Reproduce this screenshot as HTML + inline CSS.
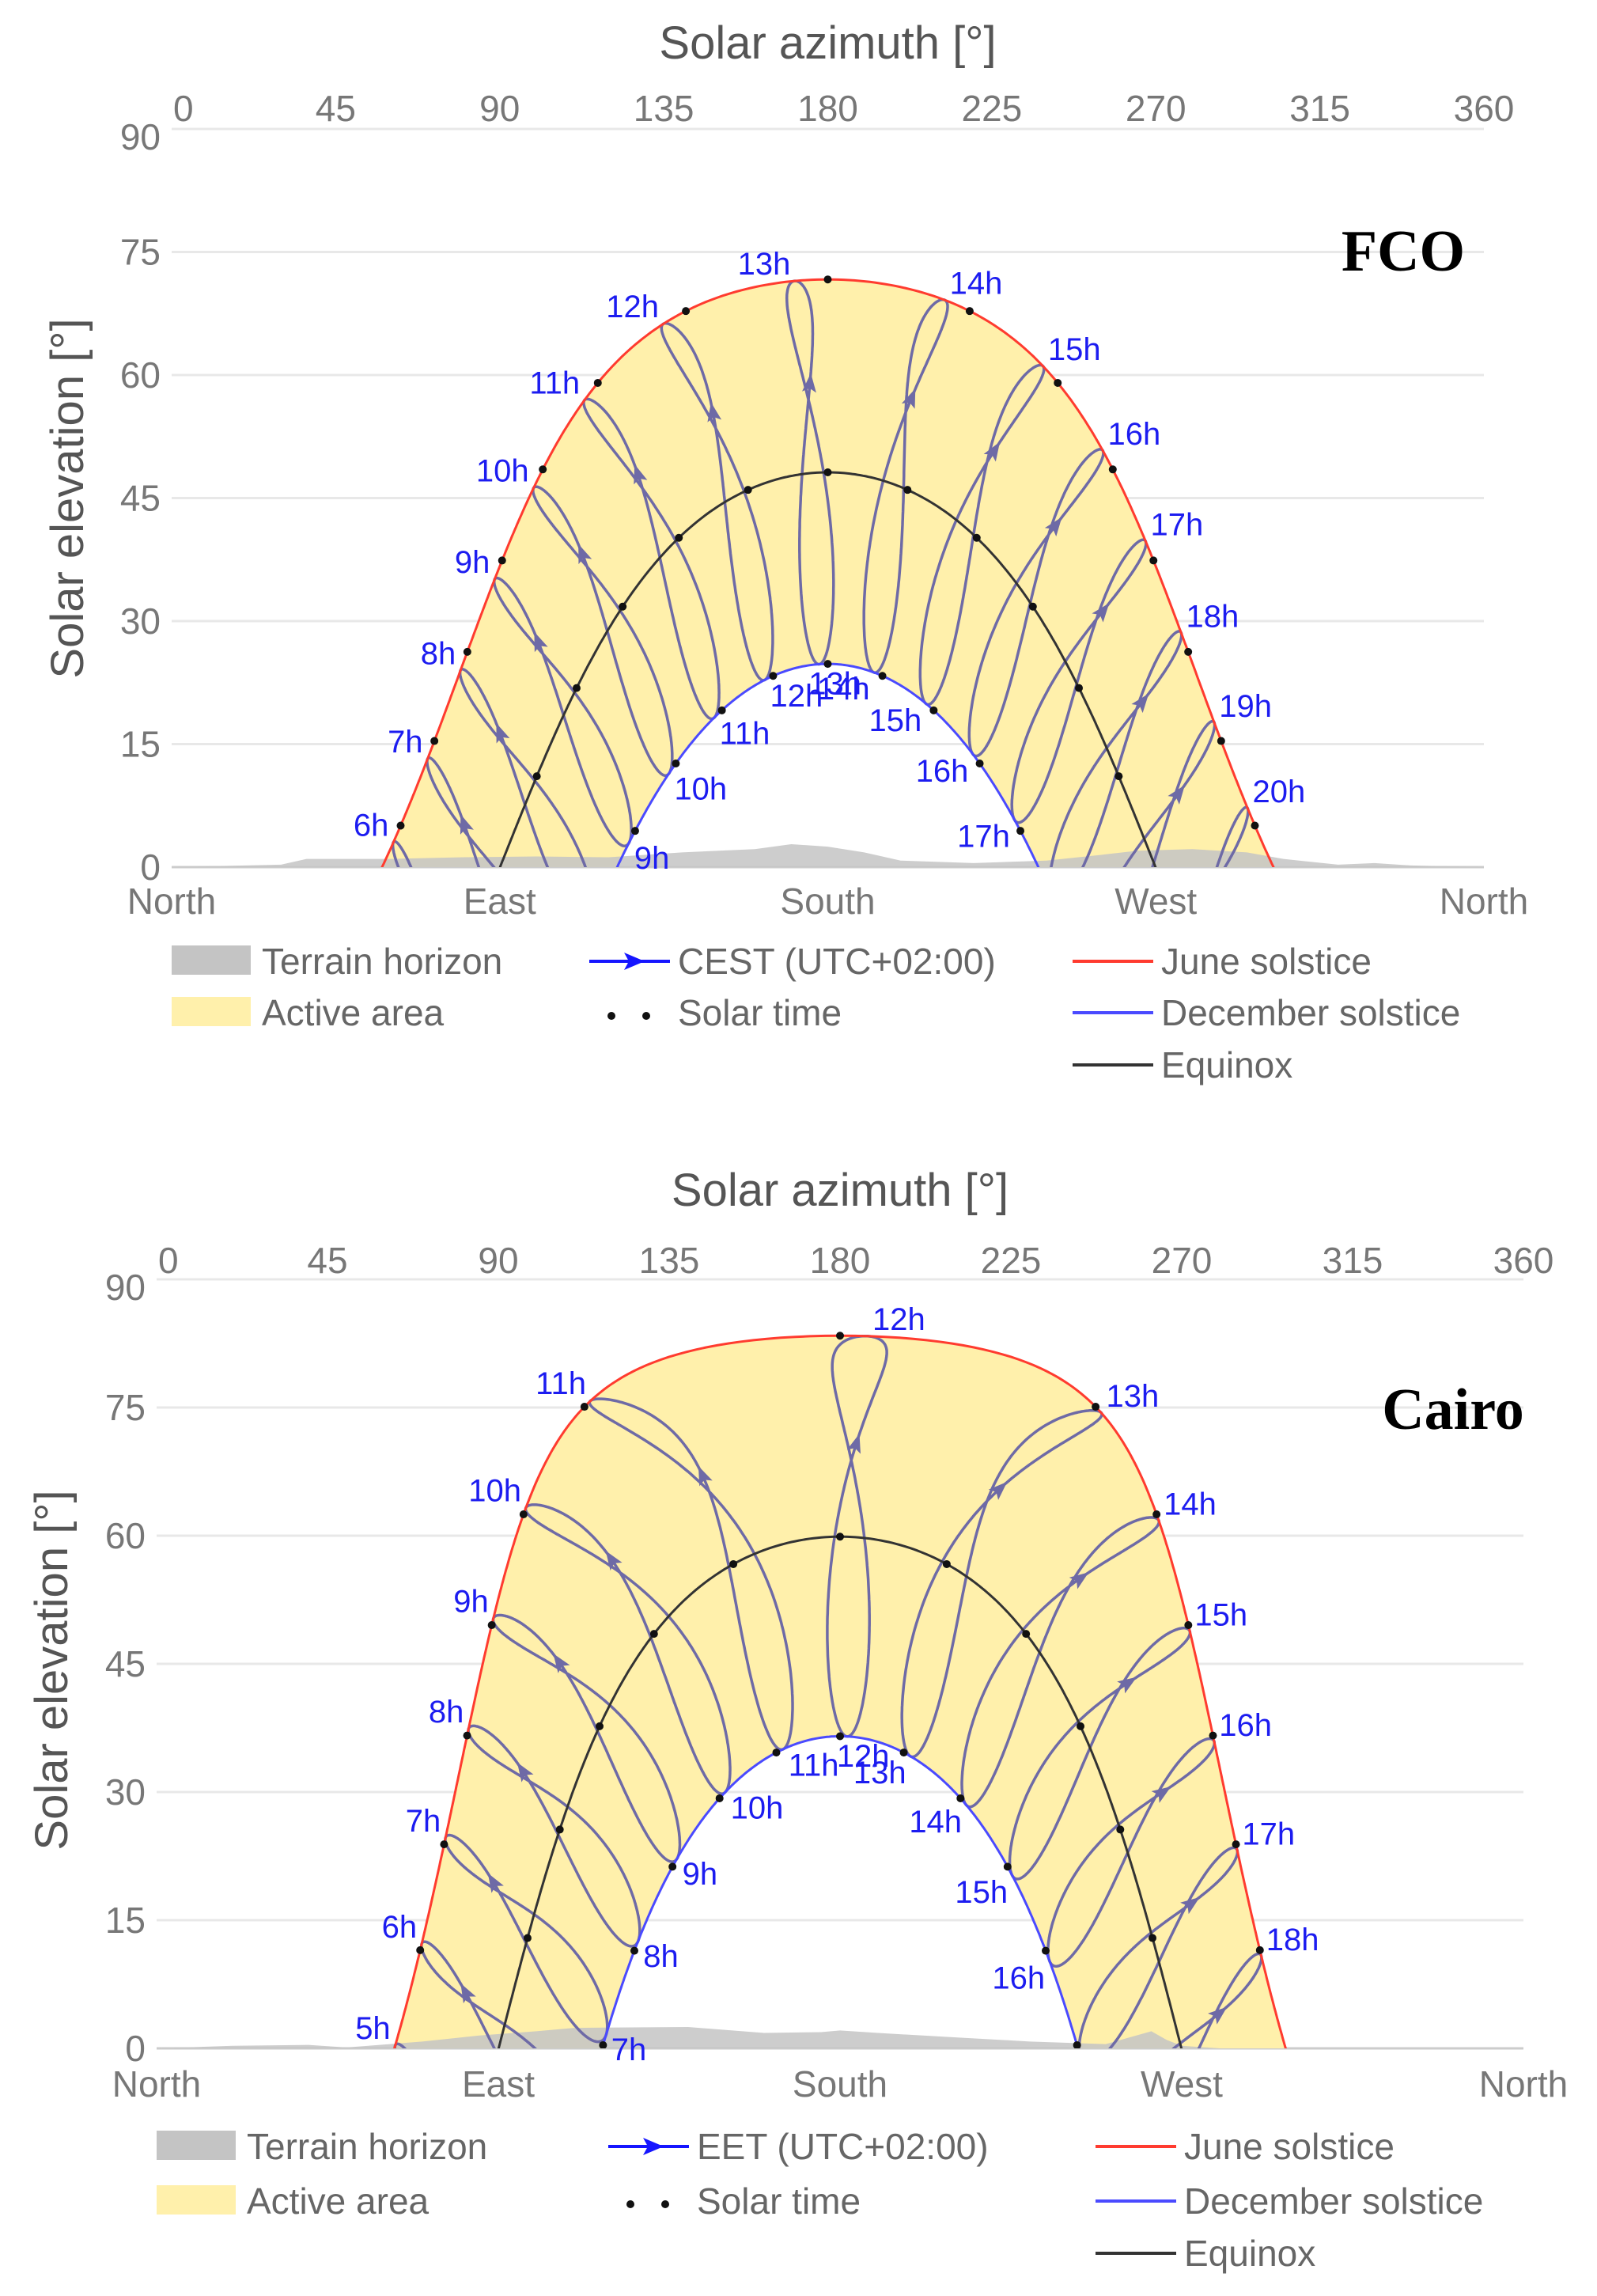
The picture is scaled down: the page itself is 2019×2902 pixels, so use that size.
<!DOCTYPE html>
<html><head><meta charset="utf-8">
<style>
html,body{margin:0;padding:0;background:#fff;overflow:hidden;width:2019px;height:2902px;}
svg{display:block;font-family:"Liberation Sans",sans-serif;}
</style></head>
<body>
<svg id="root" width="2019" height="2902" viewBox="0 0 2019 2902" xmlns="http://www.w3.org/2000/svg"></svg>
<script>
// ---- data ----
const azTicks = [0,45,90,135,180,225,270,315,360];
const elTicks = [0,15,30,45,60,75,90];
const compassNames = ["North","East","South","West","North"];
const compassAz = [0,90,180,270,360];
// FCO
const fcoLatitude = [41.8];
const fcoLongitude = [12.25];
const fcoUtcOffset = [2];
const fcoHours = [5,6,7,8,9,10,11,12,13,14,15,16,17,18,19,20,21];
const fcoJuneLabels = [6,7,8,9,10,11,12,13,14,15,16,17,18,19,20];
const fcoDecLabels = [9,10,11,12,13,14,15,16,17];
const fcoTerrainAz = [0,30,37,60,80,100,120,140,160,170,180,190,200,220,240,255,265,280,295,305,320,330,340,360];
const fcoTerrainEl = [0,0.3,1,1,1.2,1.3,1.2,1.8,2.2,2.8,2.5,1.8,0.8,0.5,0.8,1.5,2.0,2.2,1.8,1.0,0.3,0.5,0.2,0];
// Cairo
const cairoLatitude = [30.05];
const cairoLongitude = [31.25];
const cairoUtcOffset = [2];
const cairoHours = [4,5,6,7,8,9,10,11,12,13,14,15,16,17,18,19];
const cairoJuneLabels = [5,6,7,8,9,10,11,12,13,14,15,16,17,18];
const cairoDecLabels = [7,8,9,10,11,12,13,14,15,16];
const cairoTerrainAz = [0,20,40,50,70,85,100,110,140,160,175,180,190,210,230,250,262,266,270,280,360];
const cairoTerrainEl = [0,0.3,0.4,0.1,0.8,1.5,2.0,2.4,2.5,1.8,1.9,2.1,1.8,1.3,0.8,0.5,2.0,1.0,0.3,0,0];

const NS="http://www.w3.org/2000/svg";
const root=document.getElementById('root');
function mk(tag,attrs,parent){const e=document.createElementNS(NS,tag);for(const k in attrs)e.setAttribute(k,attrs[k]);(parent||root).appendChild(e);return e;}
const R=Math.PI/180;
function gam(day){return 2*Math.PI/365*(day-1);}
function decl(day){const g=gam(day);return 0.006918-0.399912*Math.cos(g)+0.070257*Math.sin(g)-0.006758*Math.cos(2*g)+0.000907*Math.sin(2*g)-0.002697*Math.cos(3*g)+0.00148*Math.sin(3*g);}
function eqt(day){const g=gam(day);return 229.18*(0.000075+0.001868*Math.cos(g)-0.032077*Math.sin(g)-0.014615*Math.cos(2*g)-0.040849*Math.sin(2*g));}
function pos(lat,dec,haDeg){const la=lat*R,h=haDeg*R;
  const el=Math.asin(Math.sin(la)*Math.sin(dec)+Math.cos(la)*Math.cos(dec)*Math.cos(h))/R;
  const az=Math.atan2(Math.sin(h),Math.cos(h)*Math.sin(la)-Math.tan(dec)*Math.cos(la))/R+180;
  return {az,el};}
function clockHa(lon,tz,day,hr){return (hr*60+eqt(day)+4*lon-60*tz)/4-180;}

function chart(o){
  const g=mk('g',{});
  
  
  const X=a=>o.x0+(o.x1-o.x0)*a/360, Y=e=>o.y0+(o.y90-o.y0)*e/90;
  const cid=o.name+'-clip';
  const cp=mk('clipPath',{id:cid},g);mk('rect',{x:o.x0,y:o.y90-40,width:o.x1-o.x0,height:o.y0-o.y90+40},cp);
  const t=mk('text',{x:(o.x0+o.x1)/2,y:o.titleY,'text-anchor':'middle','font-size':58,fill:'#555'},g);t.textContent='Solar azimuth [°]';
  
  
  elTicks.forEach(v=>{
    const l=mk('line',{x1:o.x0,x2:o.x1,y1:Y(v),y2:Y(v),stroke:v===0?'#ccc':'#e8e8e8','stroke-width':3},g);
    
    
    const tx=mk('text',{x:o.x0-14,y:Y(v)+(v===90?26:16),'text-anchor':'end','font-size':46,fill:'#777'},g);tx.textContent=v;
    
    
  });
  azTicks.forEach((v,i)=>{
    const tx=mk('text',{x:X(v)+(i===0?2:0),y:o.tickY,'text-anchor':(i===0?'start':'middle'),'font-size':46,fill:'#777'},g);tx.textContent=v;
    
    
  });
  compassNames.forEach((n,i)=>{
    const tx=mk('text',{x:X(compassAz[i]),y:o.compY,'text-anchor':'middle','font-size':46,fill:'#777'},g);tx.textContent=n;
    
    
  });
  const yt=mk('text',{x:0,y:0,'text-anchor':'middle','font-size':58,fill:'#555',transform:`translate(${o.ytX},${o.ytY}) rotate(-90)`},g);yt.textContent='Solar elevation [°]';
  
  
  function solCurve(day){const d=decl(day),pts=[];for(let h=-180;h<=180;h+=0.5){pts.push(pos(o.lat,d,h));}return pts;}
  const june=solCurve(172),dec=solCurve(355),eq=solCurve(80);
  const above=p=>p.filter(q=>q.el>=0);
  const ja=above(june),da=above(dec);
  let ps=`M${X(ja[0].az)},${Y(0)} `+ja.map(p=>`L${X(p.az)},${Y(p.el)}`).join(' ')+` L${X(ja[ja.length-1].az)},${Y(0)}`;
  const dr=da.slice().reverse();
  ps+=` L${X(dr[0].az)},${Y(0)} `+dr.map(p=>`L${X(p.az)},${Y(p.el)}`).join(' ')+` L${X(dr[dr.length-1].az)},${Y(0)} Z`;
  const area=mk('path',{d:ps,fill:'#fff0ab',stroke:'none'},g);
  
  
  let tp=`M${X(o.terrAz[0])},${Y(0)} `+o.terrAz.map((a,i)=>`L${X(a)},${Y(o.terrEl[i])}`).join(' ')+` L${X(360)},${Y(0)} Z`;
  const ter=mk('path',{d:tp,fill:'#c4c4c4',opacity:0.85},g);
  
  
  const cg=mk('g',{'clip-path':`url(#${cid})`},g);
  const line=(pts,col,w,name)=>{const p=mk('path',{d:pts.map((q,i)=>(i?'L':'M')+X(q.az).toFixed(1)+','+Y(q.el).toFixed(1)).join(' '),fill:'none',stroke:col,'stroke-width':w},cg);
    
    return p;};
  o.hours.forEach(hr=>{
    const pts=[];for(let d=1;d<=366;d++){pts.push(pos(o.lat,decl(d),clockHa(o.lon,o.tz,d,hr)));}
    pts.push(pts[0]);
    const segs=[];let cur=[];
    pts.forEach(p=>{if(p.el>-8&&Math.abs(p.az-180)<175){cur.push(p);}else{if(cur.length>1)segs.push(cur);cur=[];}});
    if(cur.length>1)segs.push(cur);
    segs.forEach(s=>line(s,'#6e6aa6',3.5,'analemma-'+hr+'h'));
    const a=pos(o.lat,decl(105),clockHa(o.lon,o.tz,105,hr)),b=pos(o.lat,decl(110),clockHa(o.lon,o.tz,110,hr));
    if(b.el>2){const ang=Math.atan2(Y(b.el)-Y(a.el),X(b.az)-X(a.az))/R;
      const ar=mk('path',{d:'M9,0 L-15,-9 L-10,0 L-15,9 Z',fill:'#6e6aa6',transform:`translate(${X(b.az)},${Y(b.el)}) rotate(${ang})`},cg);
      
      }
  });
  line(eq,'#333',3,'equinox-curve');
  line(june,'#ff3b2f',3,'june-solstice-curve');
  line(dec,'#4a4aff',3,'december-solstice-curve');
  [172,80,355].forEach(day=>{const d=decl(day);for(let h=-165;h<=165;h+=15){const p=pos(o.lat,d,h);if(p.el<0)continue;
    const c=mk('circle',{cx:X(p.az),cy:Y(p.el),r:5,fill:'#111'},cg);
    
    }});
  function lab(hr,day,june){const p=pos(o.lat,decl(day),clockHa(o.lon,o.tz,day,hr));if(p.el<-0.5)return;
    let dx,dy,anc;
    if(june){if(p.az<177){anc='end';dx=-6;dy=-8;}else if(p.az>183){anc='start';dx=6;dy=-8;}else{anc='middle';dx=0;dy=-18;}}
    else{if(p.az<175){anc='start';dx=6;dy=34;}else if(p.az>185){anc='end';dx=-6;dy=34;}else{anc='start';dx=-14;dy=38;}}
    const tx=mk('text',{x:X(p.az)+dx,y:Y(p.el)+dy,'text-anchor':anc,'font-size':40,fill:'#1c1cf0'},g);tx.textContent=hr+'h';
    
    }
  o.juneLabels.forEach(h=>lab(h,172,true));
  o.decLabels.forEach(h=>lab(h,355,false));
  const nm=mk('text',{x:o.nameX,y:o.nameY,'text-anchor':'middle','font-size':74,'font-weight':'bold','font-family':'Liberation Serif, serif',fill:'#000'},g);nm.textContent=o.title;
  
  
  const L=o.leg;
  const sw1=mk('rect',{x:L.c1,y:L.r[0]-20,width:100,height:37,fill:'#c4c4c4'},g);
  
  
  const sw2=mk('rect',{x:L.c1,y:L.r[1]-20,width:100,height:37,fill:'#fff0ab'},g);
  
  
  const ll=mk('line',{x1:L.c2,x2:L.c2+102,y1:L.r[0],y2:L.r[0],stroke:'#1515ff','stroke-width':4},g);
  
  
  const la=mk('path',{d:`M${L.c2+70},${L.r[0]} l-26,-11 l6,11 l-6,11 Z`,fill:'#1515ff'},g);
  
  
  [L.c2+28,L.c2+72].forEach(x=>{const c=mk('circle',{cx:x,cy:L.r[1]+4,r:5,fill:'#111'},g);
    
    });
  [['#ff3b2f',0],['#4a4aff',1],['#333',2]].forEach(([c,i])=>{const l=mk('line',{x1:L.c3,x2:L.c3+102,y1:L.r[i],y2:L.r[i],stroke:c,'stroke-width':4},g);
    
    });
  const texts=[[L.c1+114,0,'Terrain horizon'],[L.c1+114,1,'Active area'],[L.c2+112,0,o.tzName],[L.c2+112,1,'Solar time'],[L.c3+112,0,'June solstice'],[L.c3+112,1,'December solstice'],[L.c3+112,2,'Equinox']];
  texts.forEach(([x,i,s])=>{const tx=mk('text',{x:x,y:L.r[i]+16,'font-size':46,fill:'#666'},g);tx.textContent=s;
    
    });
}
chart({name:'fco',title:'FCO',lat:fcoLatitude[0],lon:fcoLongitude[0],tz:fcoUtcOffset[0],hours:fcoHours,juneLabels:fcoJuneLabels,decLabels:fcoDecLabels,
  terrAz:fcoTerrainAz,terrEl:fcoTerrainEl,x0:217,x1:1876,y0:1096,y90:163,titleY:74,tickY:153,compY:1155,ytX:105,ytY:630,nameX:1774,nameY:342,
  tzName:'CEST (UTC+02:00)',leg:{c1:217,c2:745,c3:1356,r:[1215,1280,1346]}});
chart({name:'cairo',title:'Cairo',lat:cairoLatitude[0],lon:cairoLongitude[0],tz:cairoUtcOffset[0],hours:cairoHours,juneLabels:cairoJuneLabels,decLabels:cairoDecLabels,
  terrAz:cairoTerrainAz,terrEl:cairoTerrainEl,x0:198,x1:1926,y0:2589,y90:1617,titleY:1524,tickY:1609,compY:2650,ytX:85,ytY:2111,nameX:1837,nameY:1806,
  tzName:'EET (UTC+02:00)',leg:{c1:198,c2:769,c3:1385,r:[2713,2782,2848]}});
</script>
</body></html>
